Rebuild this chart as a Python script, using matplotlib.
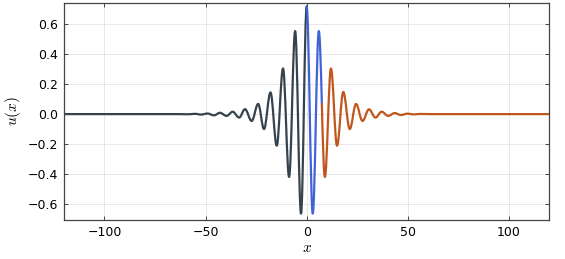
import numpy as np
import matplotlib.pyplot as plt
from matplotlib.path import Path
from matplotlib.patches import PathPatch

plt.rcParams['mathtext.fontset'] = 'cm'
plt.rcParams['font.family'] = ['DejaVu Sans']

# extrema of u(x) (left to right)
x_nodes = [-120.0, -63.0, -58.4, -55.3, -52.2, -49.1, -45.8, -42.9, -39.6, -36.6,
           -33.4, -30.5, -27.2, -24.0, -21.1, -17.9, -14.8, -11.7, -8.7, -5.7,
           -2.8, 0.0,
           3.0, 6.0, 9.0, 12.0, 15.0, 18.1, 21.3, 24.4, 27.6, 30.8,
           34.0, 37.1, 40.3, 43.5, 46.6, 49.8, 52.9, 56.0, 62.0, 120.0]
u_nodes = [0.0, 0.0, -0.001, 0.002, -0.003, 0.004, -0.008, 0.009, -0.012, 0.016,
           -0.023, 0.033, -0.046, 0.068, -0.1, 0.145, -0.211, 0.305, -0.42, 0.555,
           -0.665, 0.72,
           -0.665, 0.555, -0.42, 0.305, -0.211, 0.148, -0.1, 0.068, -0.046, 0.032,
           -0.023, 0.016, -0.012, 0.007, -0.006, 0.003, -0.002, 0.001, 0.0, 0.0]
# colour sections (in node index): up to the main peak, 1.5 waves after it, the rest
sections = [(0, 21, '#34434e'), (21, 23.5, '#4063d8'), (23.5, 41, '#c0561c')]

K = 0.364  # bezier handle so each half wave looks like a half cosine


def half_wave(i):
    x0, y0, x1, y1 = x_nodes[i], u_nodes[i], x_nodes[i + 1], u_nodes[i + 1]
    d = (x1 - x0) * K
    return np.array([[x0, y0], [x0 + d, y0], [x1 - d, y1], [x1, y1]])


def split(p):
    # de Casteljau at t = 0.5
    a = (p[0] + p[1]) / 2
    b = (p[1] + p[2]) / 2
    c = (p[2] + p[3]) / 2
    ab = (a + b) / 2
    bc = (b + c) / 2
    m = (ab + bc) / 2
    return np.array([p[0], a, ab, m]), np.array([m, bc, c, p[3]])


def section_path(start, stop):
    segs = []
    i = int(np.floor(start))
    while i < stop:
        p = half_wave(i)
        if start > i:
            p = split(p)[1]
        if stop < i + 1:
            p = split(p)[0]
        segs.append(p)
        i += 1
    verts = [segs[0][0]]
    codes = [Path.MOVETO]
    for s in segs:
        verts += [s[1], s[2], s[3]]
        codes += [Path.CURVE4] * 3
    return Path(verts, codes)


fig = plt.figure(figsize=(5.65, 2.59), dpi=100)
ax = fig.add_axes([0.1133, 0.1494, 0.859, 0.8402])

for a, b, col in sections:
    ax.add_patch(PathPatch(section_path(a, b), fill=False, edgecolor=col,
                           lw=1.6, capstyle='round', joinstyle='round'))

ax.set_xlim(-120, 120)
ax.set_ylim(-0.71, 0.745)
ax.set_xticks([-100, -50, 0, 50, 100])
ax.set_yticks([-0.6, -0.4, -0.2, 0.0, 0.2, 0.4, 0.6])
ax.grid(True, color='#000000', alpha=0.1, lw=0.6)
ax.set_axisbelow(True)
ax.tick_params(direction='in', length=3, width=0.7, color='#444444',
               labelsize=9, top=True, right=True, pad=4)
for s in ax.spines.values():
    s.set_color('#444444')
    s.set_linewidth(0.9)

ax.set_xlabel('$x$', fontsize=11, labelpad=1)
ax.set_ylabel('$u(x)$', fontsize=11, labelpad=4)

fig.savefig('out.png', dpi=100)
